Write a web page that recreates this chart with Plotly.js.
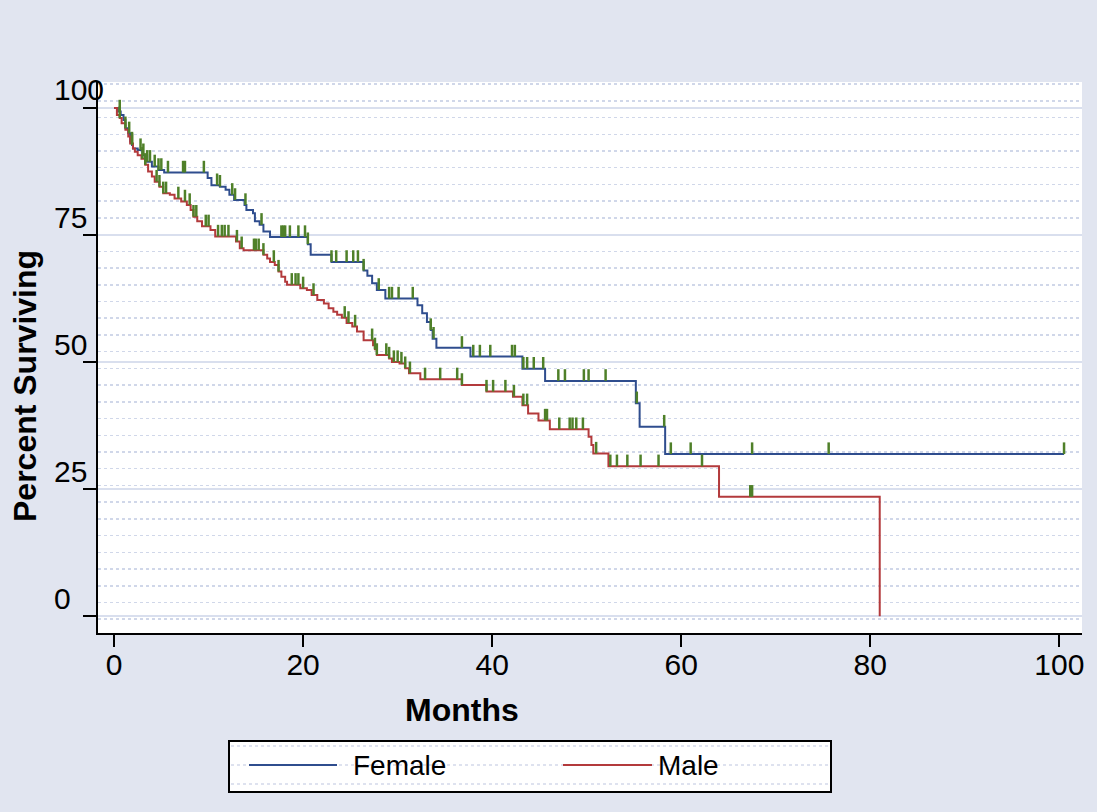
<!DOCTYPE html>
<html>
<head>
<meta charset="utf-8">
<script src="https://cdn.plot.ly/plotly-3.0.1.min.js"></script>
<style>html,body{margin:0;padding:0;background:#e1e5f0;}#chart{width:1097px;height:812px;}</style>
</head>
<body>
<div id="chart"></div>
<script>
// ---- Data ----
const femaleTime = [0, 0.4, 0.7, 1.0, 1.2, 1.5, 1.7, 1.9, 2.0, 2.5, 3.0, 3.5, 4.0, 4.7, 5.3, 9.9, 10.3, 11.2, 11.8, 12.2, 12.7, 13.8, 14.0, 14.7, 14.9, 15.4, 15.8, 16.5, 20.5, 20.8, 23.0, 26.4, 26.8, 27.3, 27.8, 28.7, 32.1, 32.6, 33.1, 33.5, 33.7, 34.1, 37.7, 43.2, 45.6, 55.2, 55.6, 58.3, 100.5];
const femaleSurv = [100, 99.3, 98.6, 97.6, 96, 95, 93.4, 92.7, 92, 91.7, 90.7, 89.4, 88.5, 87.8, 87.3, 86.2, 84.8, 84.5, 83.9, 82.9, 81.9, 80.9, 79.9, 79.3, 77.7, 77, 75.7, 74.6, 73.2, 71.1, 69.7, 68, 67, 65.5, 64.2, 62.5, 61.2, 59.6, 57.9, 56.3, 54.6, 52.8, 51.1, 48.7, 46.3, 41.9, 37.3, 31.9, 31.9];

const maleTime = [0, 0.3, 0.6, 0.8, 1.2, 1.5, 1.7, 2.0, 2.2, 2.5, 2.9, 3.3, 3.6, 4.0, 4.3, 4.8, 5.2, 5.9, 6.4, 7.1, 7.7, 8.1, 8.4, 8.8, 9.3, 10.2, 10.7, 12.9, 13.3, 13.7, 15.8, 16.2, 16.5, 17.0, 17.4, 17.7, 18.1, 18.3, 19.7, 20.4, 20.9, 21.5, 22.2, 22.7, 23.2, 23.6, 24.1, 24.6, 25.2, 25.7, 26.4, 27.4, 27.6, 27.8, 29.1, 29.4, 30.2, 30.8, 31.2, 32.4, 36.8, 39.4, 42.2, 43.2, 43.8, 44.9, 46.1, 50.2, 50.5, 50.7, 52.3, 64.0, 81.0];
const maleSurv = [100, 98.6, 98, 97, 95.7, 94.4, 93, 92, 91.4, 90.7, 90, 88.8, 87.5, 86.5, 85.5, 84.5, 83.2, 82.9, 82.2, 81.6, 80.9, 79.9, 78.6, 77.7, 76.7, 76, 74.7, 73.7, 72.4, 72, 71.1, 70.4, 69.7, 69.1, 67.8, 66.8, 65.8, 65.2, 64.5, 64.2, 63.2, 62.2, 61.5, 60.6, 59.9, 59.3, 58.7, 57.7, 57, 56, 54.3, 53.3, 52.5, 51.4, 50.7, 50, 49.7, 48.8, 47.8, 46.6, 45.5, 44.2, 43.2, 41.5, 39.9, 38.5, 36.8, 35.3, 33.7, 32, 29.5, 23.5, 0];

const femaleCensor = [0.6, 1.2, 1.6, 1.9, 2.8, 3.1, 3.5, 3.8, 4.3, 4.7, 5.0, 5.7, 7.3, 7.5, 9.5, 10.9, 11.2, 12.5, 12.8, 13.9, 15.6, 17.7, 17.9, 18.1, 18.6, 19.5, 20.2, 20.5, 23.0, 23.5, 24.6, 25.3, 25.8, 26.4, 28.0, 29.1, 29.4, 30.1, 31.6, 33.5, 33.8, 36.8, 38.0, 38.7, 39.8, 42.1, 42.4, 43.3, 43.7, 44.4, 45.4, 47.0, 47.7, 49.7, 50.2, 52.0, 55.3, 58.2, 58.9, 61.0, 67.5, 75.6, 100.5];
const maleCensor = [0.6, 1.9, 3.0, 3.3, 4.5, 4.8, 5.2, 5.5, 6.8, 7.5, 8.0, 8.4, 8.7, 9.7, 10.0, 11.0, 11.4, 11.7, 12.1, 13.0, 13.5, 14.8, 15.0, 15.3, 15.8, 16.9, 17.4, 18.8, 19.2, 19.5, 20.0, 21.1, 24.4, 24.8, 25.5, 27.3, 27.6, 27.8, 28.8, 29.1, 29.6, 30.0, 30.4, 30.8, 31.3, 32.9, 34.5, 36.3, 36.8, 39.4, 40.1, 41.4, 42.3, 43.3, 43.7, 45.6, 45.8, 47.1, 48.2, 48.5, 48.9, 49.6, 51.0, 52.5, 53.2, 54.3, 55.7, 57.6, 62.2, 67.3, 67.5];

const seriesNames = ['Female', 'Male'];
const xTickVals = [0, 20, 40, 60, 80, 100];
const yTickVals = [0, 25, 50, 75, 100];
const yTickLabels = ['0', '25', '50', '75', '100'];
const xTitle = 'Months';
const yTitle = 'Percent Surviving';

// ---- Styles ----
const FONT = 'Liberation Sans, Arial, Helvetica, sans-serif';
const BLUE = '#2f4d8e';
const RED = '#b33a3c';
const GREEN = '#4f8029';
const BG = '#e1e5f0';
const TICK_H = 2.3; // height of censor marks in % units

function survAt(times, surv, t) {
  let s = surv[0];
  for (let i = 0; i < times.length; i++) { if (times[i] <= t) s = surv[i]; }
  return s;
}
function censorSegments(times, surv, cens) {
  const x = [], y = [];
  cens.forEach(t => { const s = survAt(times, surv, t); x.push(t, t, null); y.push(s, s + TICK_H, null); });
  return {x, y};
}

const fc = censorSegments(femaleTime, femaleSurv, femaleCensor);
const mc = censorSegments(maleTime, maleSurv, maleCensor);

const traces = [
  {x: femaleTime, y: femaleSurv, name: seriesNames[0], mode: 'lines', line: {shape: 'hv', color: BLUE, width: 2}, showlegend: false, hoverinfo: 'skip'},
  {x: maleTime, y: maleSurv, name: seriesNames[1], mode: 'lines', line: {shape: 'hv', color: RED, width: 2}, showlegend: false, hoverinfo: 'skip'},
  {x: fc.x, y: fc.y, name: seriesNames[0] + ' censored', mode: 'lines', line: {color: GREEN, width: 2.5}, showlegend: false, hoverinfo: 'skip', connectgaps: false},
  {x: mc.x, y: mc.y, name: seriesNames[1] + ' censored', mode: 'lines', line: {color: GREEN, width: 2.5}, showlegend: false, hoverinfo: 'skip', connectgaps: false}
];

// plot area in pixels: x 98..1082, y 82..633
const PL = 98, PR = 1082, PT = 82, PB = 633;
const px = v => (v - PL) / (PR - PL);
const py = v => (PB - v) / (PB - PT);

const annotations = yTickLabels.map((lab, i) => ({
  text: lab, xref: 'paper', yref: 'y', x: px(52), y: yTickVals[i], xanchor: 'left', yanchor: 'middle',
  yshift: 18, showarrow: false, font: {family: FONT, size: 30, color: '#000'}
}));
annotations.push({text: '<b>' + xTitle + '</b>', xref: 'paper', yref: 'paper', x: px(462), y: py(710), xanchor: 'center', yanchor: 'middle', showarrow: false, font: {family: FONT, size: 32, color: '#000'}});
annotations.push({text: '<b>' + yTitle + '</b>', xref: 'paper', yref: 'paper', x: px(25), y: py(386), xanchor: 'center', yanchor: 'middle', textangle: -90, showarrow: false, font: {family: FONT, size: 32, color: '#000'}});
annotations.push({text: seriesNames[0], xref: 'paper', yref: 'paper', x: px(351), y: py(765), xanchor: 'left', yanchor: 'middle', showarrow: false, font: {family: FONT, size: 28, color: '#000'}});
annotations.push({text: seriesNames[1], xref: 'paper', yref: 'paper', x: px(656), y: py(765), xanchor: 'left', yanchor: 'middle', showarrow: false, font: {family: FONT, size: 28, color: '#000'}});

const shapes = [
  {type: 'rect', xref: 'paper', yref: 'paper', x0: px(229), x1: px(831), y0: py(792), y1: py(741), fillcolor: '#ffffff', line: {color: '#000', width: 2}, layer: 'above'},
  {type: 'line', xref: 'paper', yref: 'paper', x0: px(231), x1: px(829), y0: py(746), y1: py(746), line: {color: '#d3d9ea', width: 1.5, dash: 'dot'}},
  {type: 'line', xref: 'paper', yref: 'paper', x0: px(231), x1: px(829), y0: py(765), y1: py(765), line: {color: '#d3d9ea', width: 1.5, dash: 'dot'}},
  {type: 'line', xref: 'paper', yref: 'paper', x0: px(231), x1: px(829), y0: py(784), y1: py(784), line: {color: '#d3d9ea', width: 1.5, dash: 'dot'}},
  {type: 'line', xref: 'paper', yref: 'paper', x0: px(249), x1: px(337), y0: py(765), y1: py(765), line: {color: BLUE, width: 2}},
  {type: 'line', xref: 'paper', yref: 'paper', x0: px(563), x1: px(652), y0: py(765), y1: py(765), line: {color: RED, width: 2}}
];

const layout = {
  width: 1097, height: 812,
  paper_bgcolor: BG, plot_bgcolor: '#ffffff',
  margin: {l: PL, r: 1097 - PR, t: PT, b: 812 - PB, pad: 0},
  showlegend: false,
  font: {family: FONT, color: '#000'},
  xaxis: {
    range: [-1.7, 102.4], tickvals: xTickVals, ticktext: xTickVals.map(String),
    ticks: 'outside', ticklen: 12, tickwidth: 2, tickcolor: '#000',
    showline: true, linecolor: '#000', linewidth: 2, mirror: false,
    showgrid: false, zeroline: false, ticklabelstandoff: -8,
    tickfont: {family: FONT, size: 30, color: '#000'}, automargin: false
  },
  yaxis: {
    range: [-3.3, 105.1], tickvals: yTickVals,
    ticks: 'outside', ticklen: 13, tickwidth: 2, tickcolor: '#000',
    showline: true, linecolor: '#000', linewidth: 2, mirror: false,
    showticklabels: false,
    showgrid: true, gridcolor: '#d9dfee', gridwidth: 2, zeroline: false,
    minor: {tick0: 2.7, dtick: 3.29, showgrid: true, gridcolor: '#d0d7e9', gridwidth: 1.5, griddash: 'dot', ticks: ''},
    automargin: false
  },
  annotations: annotations,
  shapes: shapes
};

Plotly.newPlot('chart', traces, layout, {displayModeBar: false, staticPlot: true});
</script>
</body>
</html>
